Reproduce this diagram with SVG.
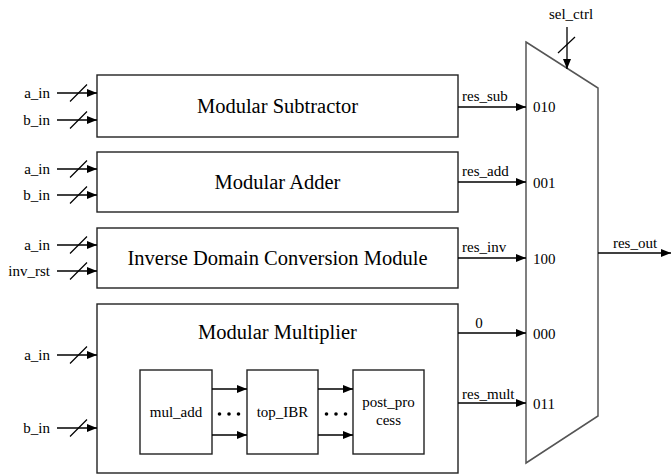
<svg xmlns="http://www.w3.org/2000/svg" width="671" height="475" viewBox="0 0 671 475">
  <defs>
    <marker id="arr" markerUnits="userSpaceOnUse" markerWidth="11" markerHeight="8" refX="10" refY="4" orient="auto">
      <path d="M0,0 L10,4 L0,8 z" fill="#000"/>
    </marker>
    <style>
      .box { fill: #fff; stroke: #222; stroke-width: 1.4; }
      .mux { fill: #fff; stroke: #555; stroke-width: 1.5; }
      .wire { fill: none; stroke: #000; stroke-width: 1.3; }
      .slash { fill: none; stroke: #000; stroke-width: 1.2; }
      text { font-family: "Liberation Serif", Tinos, "Noto Serif", "Nimbus Roman", FreeSerif, Times, "DejaVu Serif", serif; fill: #000; }
      .title { font-size: 20.5px; text-anchor: middle; }
      .lbl { font-size: 15px; }
      .end { text-anchor: end; }
      .mid { text-anchor: middle; }
    </style>
  </defs>

  <!-- multiplexer -->
  <g id="mux">
    <polygon class="mux" points="526,42 598,88 598,416 526,463"/>
    <text class="lbl" x="533" y="112">010</text>
    <text class="lbl" x="533" y="187.5">001</text>
    <text class="lbl" x="533" y="263.5">100</text>
    <text class="lbl" x="533" y="338.5">000</text>
    <text class="lbl" x="533" y="408.5">011</text>
  </g>

  <g id="sub">
    <rect class="box" x="97" y="75" width="361" height="62"/>
    <text class="title" x="277.5" y="113">Modular Subtractor</text>
  </g>

  <g id="add">
    <rect class="box" x="97" y="152" width="361" height="60"/>
    <text class="title" x="277.5" y="189">Modular Adder</text>
  </g>

  <g id="inv">
    <rect class="box" x="97" y="228" width="361" height="60"/>
    <text class="title" x="277.5" y="265">Inverse Domain Conversion Module</text>
  </g>

  <g id="mul">
    <rect class="box" x="97" y="304" width="361" height="169"/>
    <text class="title" x="277.5" y="339">Modular Multiplier</text>
  </g>

  <g id="mul_add">
    <rect class="box" x="140" y="370" width="72" height="84"/>
    <text class="lbl mid" x="176" y="417">mul_add</text>
  </g>

  <g id="top_IBR">
    <rect class="box" x="247" y="370" width="71" height="84"/>
    <text class="lbl mid" x="282.5" y="417">top_IBR</text>
  </g>

  <g id="post_process">
    <rect class="box" x="353" y="370" width="71" height="84"/>
    <text class="lbl mid" x="388.5" y="407">post_pro</text>
    <text class="lbl mid" x="388.5" y="425">cess</text>
  </g>

  <!-- signal names -->
  <g id="labels">
    <text class="lbl end" x="50" y="97.5">a_in</text>
    <text class="lbl end" x="50" y="124.5">b_in</text>
    <text class="lbl end" x="50" y="173.5">a_in</text>
    <text class="lbl end" x="50" y="199.5">b_in</text>
    <text class="lbl end" x="50" y="249.5">a_in</text>
    <text class="lbl end" x="50" y="275.5">inv_rst</text>
    <text class="lbl end" x="50" y="359.5">a_in</text>
    <text class="lbl end" x="50" y="432.5">b_in</text>
    <text class="lbl" x="462" y="101">res_sub</text>
    <text class="lbl" x="462" y="176">res_add</text>
    <text class="lbl" x="462" y="252">res_inv</text>
    <text class="lbl mid" x="479" y="328">0</text>
    <text class="lbl" x="462" y="399">res_mult</text>
    <text class="lbl mid" x="571" y="19">sel_ctrl</text>
    <text class="lbl mid" x="635" y="248">res_out</text>
  </g>

  <g id="connectors">
    <!-- bus inputs -->
    <line class="wire" x1="57" y1="93" x2="97" y2="93" marker-end="url(#arr)"/>
    <line class="wire" x1="57" y1="120" x2="97" y2="120" marker-end="url(#arr)"/>
    <line class="wire" x1="57" y1="169" x2="97" y2="169" marker-end="url(#arr)"/>
    <line class="wire" x1="57" y1="195" x2="97" y2="195" marker-end="url(#arr)"/>
    <line class="wire" x1="57" y1="245" x2="97" y2="245" marker-end="url(#arr)"/>
    <line class="wire" x1="57" y1="271" x2="97" y2="271" marker-end="url(#arr)"/>
    <line class="wire" x1="57" y1="355" x2="97" y2="355" marker-end="url(#arr)"/>
    <line class="wire" x1="57" y1="428" x2="97" y2="428" marker-end="url(#arr)"/>
    <path class="slash" d="M70,101.5 L87,84.5 M70,128.5 L87,111.5 M70,177.5 L87,160.5 M70,203.5 L87,186.5 M70,253.5 L87,236.5 M70,279.5 L87,262.5 M70,363.5 L87,346.5 M70,436.5 L87,419.5"/>

    <!-- select input -->
    <line class="wire" x1="567" y1="27" x2="567" y2="69" marker-end="url(#arr)"/>
    <path class="slash" d="M558,53 L575,37"/>

    <!-- results into multiplexer -->
    <line class="wire" x1="458" y1="107" x2="526" y2="107" marker-end="url(#arr)"/>
    <line class="wire" x1="458" y1="182" x2="526" y2="182" marker-end="url(#arr)"/>
    <line class="wire" x1="458" y1="258" x2="526" y2="258" marker-end="url(#arr)"/>
    <line class="wire" x1="458" y1="333" x2="526" y2="333" marker-end="url(#arr)"/>
    <line class="wire" x1="458" y1="403" x2="526" y2="403" marker-end="url(#arr)"/>

    <!-- output -->
    <line class="wire" x1="598" y1="253" x2="671" y2="253" marker-end="url(#arr)"/>

    <!-- internal pipeline -->
    <line class="wire" x1="212" y1="389" x2="247" y2="389" marker-end="url(#arr)"/>
    <line class="wire" x1="212" y1="435" x2="247" y2="435" marker-end="url(#arr)"/>
    <line class="wire" x1="318" y1="389" x2="353" y2="389" marker-end="url(#arr)"/>
    <line class="wire" x1="318" y1="435" x2="353" y2="435" marker-end="url(#arr)"/>
    <g fill="#000">
      <circle cx="219.5" cy="414" r="1.8"/>
      <circle cx="229" cy="414" r="1.8"/>
      <circle cx="238.5" cy="414" r="1.8"/>
      <circle cx="326.5" cy="414" r="1.8"/>
      <circle cx="336" cy="414" r="1.8"/>
      <circle cx="345.5" cy="414" r="1.8"/>
    </g>
  </g>
</svg>
